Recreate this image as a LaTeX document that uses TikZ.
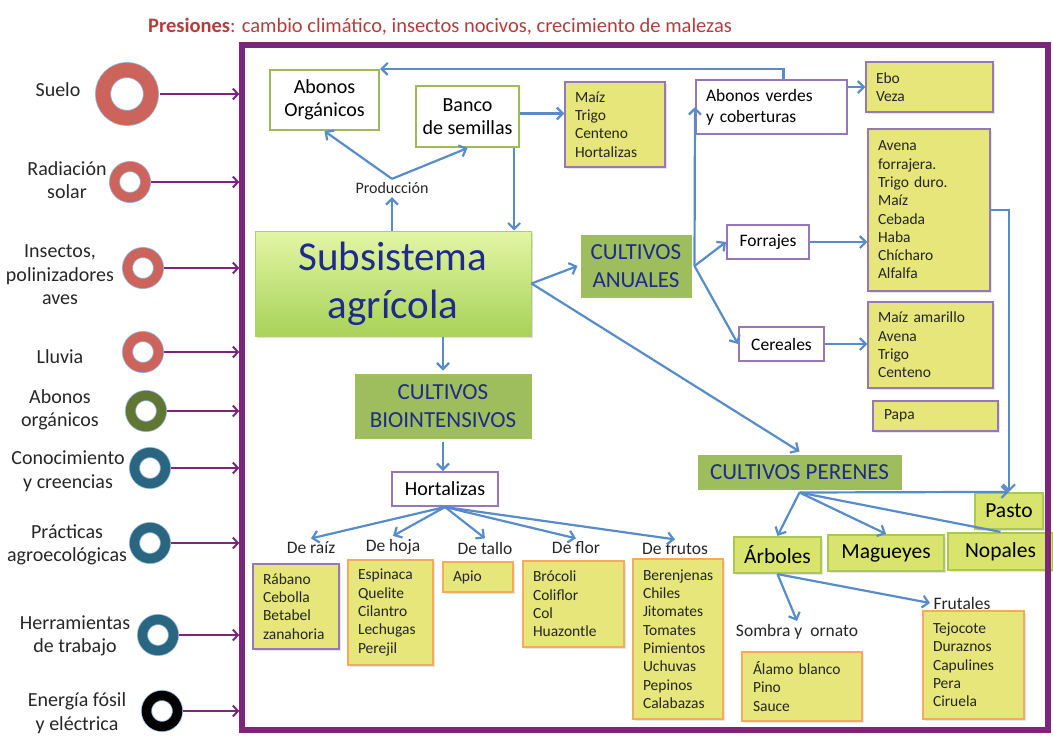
\documentclass[tikz,border=0pt]{standalone}
\usepackage{fontspec}
\setmainfont{Carlito}
\usetikzlibrary{arrows.meta,shadows}
\definecolor{titulo}{RGB}{178,62,60}
\definecolor{marcomorado}{RGB}{124,38,122}
\definecolor{flechaazul}{RGB}{88,140,200}
\definecolor{verdeborde}{RGB}{155,187,89}
\definecolor{verdecaja}{RGB}{158,189,92}
\definecolor{azultexto}{RGB}{32,42,140}
\definecolor{morado}{RGB}{150,120,185}
\definecolor{amarillo}{RGB}{230,230,122}
\definecolor{naranja}{RGB}{246,170,92}
\definecolor{verdeclaro}{RGB}{216,228,110}
\definecolor{verdeclaroborde}{RGB}{168,200,82}
\definecolor{anillorojo}{RGB}{205,100,92}
\definecolor{anilloverde}{RGB}{98,118,52}
\definecolor{anilloazul}{RGB}{42,102,128}
\definecolor{anilloborde}{RGB}{150,185,225}
\tikzstyle{flecha} = [flechaazul, line width=2.2pt, -{Straight Barb[length=6pt,width=12pt]}]
\tikzstyle{linea} = [flechaazul, line width=2.2pt]
\tikzstyle{entrada} = [marcomorado, line width=2pt, -{Straight Barb[length=5pt,width=11pt]}]
\tikzstyle{anillo} = [circle, draw=anilloborde, line width=0.8pt, double distance=9.4pt, minimum size=31pt, inner sep=0pt, outer sep=5.5pt]
\tikzstyle{factor} = [align=center, text=black!85, font=\fontsize{20}{23.5}\selectfont]
\tikzstyle{caja} = [draw=verdeborde, fill=white, line width=2.2pt, align=center, font=\fontsize{20}{23}\selectfont]
\tikzstyle{cajam} = [draw=morado, fill=white, line width=2pt, font=\fontsize{17.5}{21}\selectfont]
\tikzstyle{cultivo} = [fill=verdecaja, draw=white, line width=3pt, align=center, text=azultexto, font=\fontsize{23}{28}\selectfont, drop shadow={opacity=0.25,shadow xshift=1.5pt,shadow yshift=-1.5pt}]
\tikzstyle{lista} = [draw=morado, fill=amarillo, line width=1.3pt, align=left, inner xsep=10pt, text=black!85, font=\fontsize{15.5}{18.3}\selectfont, drop shadow={opacity=0.2,shadow xshift=1.5pt,shadow yshift=-1.5pt}]
\tikzstyle{planta} = [draw=verdeclaroborde, fill=verdeclaro, line width=2.2pt, font=\fontsize{21.5}{25}\selectfont, drop shadow={opacity=0.2,shadow xshift=1.5pt,shadow yshift=-1.5pt}]
\tikzstyle{grupo} = [text=black!85, font=\fontsize{17.5}{21}\selectfont]

\begin{document}
\begin{tikzpicture}[x=1pt,y=-1pt]
\useasboundingbox (0,0) rectangle (1053,740);
\draw (440,27) node (presiones) [text=titulo, font=\fontsize{20.5}{24}\selectfont] {\textbf{Presiones}: cambio climático, insectos nocivos, crecimiento de malezas};
% factores de entrada
\draw (58,90) node (tsuelo) [factor] {Suelo};
\draw (67,180) node (tradiacion) [factor] {Radiación\\solar};
\draw (60,275) node (tinsectos) [factor] {Insectos,\\polinizadores\\aves};
\draw (60,357) node (tlluvia) [factor] {Lluvia};
\draw (60,410) node (tabonos) [factor] {Abonos\\orgánicos};
\draw (68,471) node (tconocimiento) [factor] {Conocimiento\\y creencias};
\draw (67,545) node (tpracticas) [factor] {Prácticas\\agroecológicas};
\draw (75,636) node (therramientas) [factor] {Herramientas\\de trabajo};
\draw (77,713) node (tenergia) [factor] {Energía fósil\\y eléctrica};
\draw (127,94) node (suelo) [anillo, double=anillorojo, minimum size=48pt, double distance=14.4pt, outer sep=8.8pt] {};
\draw (130,182) node (radiacion) [anillo, double=anillorojo] {};
\draw (143,268) node (insectos) [anillo, double=anillorojo] {};
\draw (143,352) node (lluvia) [anillo, double=anillorojo] {};
\draw (146,411) node (abonosorg) [anillo, double=anilloverde] {};
\draw (150,468) node (conocimiento) [anillo, double=anilloazul] {};
\draw (150,543) node (practicas) [anillo, double=anilloazul] {};
\draw (158,635) node (herramientas) [anillo, double=anilloazul] {};
\draw (162,711) node (energia) [anillo, double=black] {};
% subsistema
\draw (324.5,100) node (abonos) [caja, minimum width=109pt, minimum height=60pt] {Abonos\\Orgánicos};
\draw (467.5,116.5) node (banco) [caja, minimum width=103pt, minimum height=61pt] {Banco\\de semillas};
\draw (615,124.5) node (semillas) [lista, text width=80pt, minimum height=85pt] {Maíz\\Trigo\\Centeno\\Hortalizas};
\draw (392,188) node (produccion) [text=black!85, font=\fontsize{16}{19}\selectfont] {Producción};
\draw (393,283.5) node (subsistema) [shade, top color={rgb,255:red,226;green,246;blue,165}, bottom color={rgb,255:red,168;green,210;blue,88}, draw={rgb,255:red,175;green,205;blue,110}, line width=1pt, minimum width=276pt, minimum height=105pt, align=center, text=azultexto, font=\fontsize{41}{48}\selectfont, drop shadow={opacity=0.25,shadow xshift=2pt,shadow yshift=-2pt}] {Subsistema\\agrícola};
\draw (636,266) node (anuales) [cultivo, minimum width=114pt, minimum height=66pt] {CULTIVOS\\ANUALES};
\draw (443,406) node (bioint) [cultivo, minimum width=180pt, minimum height=68pt] {CULTIVOS\\BIOINTENSIVOS};
\draw (799.5,472) node (perenes) [cultivo, minimum width=207pt, minimum height=38pt] {CULTIVOS PERENES};
\draw (771.5,107) node (verdes) [cajam, align=left, text width=131pt, inner xsep=10pt, minimum height=54pt] {Abonos verdes\\y coberturas};
\draw (929.5,87) node (ebo) [lista, text width=107pt, minimum height=50pt] {Ebo\\Veza};
\draw (768,242) node (forrajes) [cajam, minimum width=82pt, minimum height=34pt] {Forrajes};
\draw (929,210) node (forrajeslist) [lista, text width=102pt, minimum height=162pt] {Avena\\forrajera.\\Trigo duro.\\Maíz\\Cebada\\Haba\\Chícharo\\Alfalfa};
\draw (781.5,344) node (cereales) [cajam, minimum width=85pt, minimum height=34pt] {Cereales};
\draw (930.5,345) node (cereallist) [lista, text width=105pt, minimum height=86pt] {Maíz amarillo\\Avena\\Trigo\\Centeno};
\draw (935.5,416) node (papa) [lista, text width=103pt, inner xsep=11pt, minimum height=30pt] {Papa};
\draw (1009,511) node (pasto) [planta, minimum width=68pt, minimum height=36pt] {Pasto};
\draw (777.5,555) node (arboles) [planta, minimum width=87pt, minimum height=36pt] {Árboles};
\draw (886,553) node (magueyes) [planta, minimum width=116pt, minimum height=36pt] {Magueyes};
\draw (1000.5,551.5) node (nopales) [planta, minimum width=105pt, minimum height=37pt] {Nopales};
\draw (797,632) node (sombra) [grupo] {Sombra y~ ornato};
\draw (802,686.5) node (sombralist) [lista, draw=naranja, text width=98pt, inner xsep=11pt, minimum height=69pt] {Álamo blanco\\Pino\\Sauce};
\draw (962,603) node (frutales) [grupo] {Frutales};
\draw (973.5,665) node (frutaleslist) [lista, draw=naranja, text width=81pt, minimum height=108pt] {Tejocote\\Duraznos\\Capulines\\Pera\\Ciruela};
\draw (445,489) node (hortalizas) [cajam, font=\fontsize{20}{23}\selectfont, minimum width=106pt, minimum height=34pt] {Hortalizas};
\draw (311,548) node (deraiz) [grupo] {De raíz};
\draw (393,547) node (dehoja) [grupo] {De hoja};
\draw (485,548) node (detallo) [grupo] {De tallo};
\draw (576,548) node (deflor) [grupo] {De flor};
\draw (675,549) node (defrutos) [grupo] {De frutos};
\draw (296,606.5) node (raiz) [lista, text width=66pt, minimum height=85pt] {Rábano\\Cebolla\\Betabel\\zanahoria};
\draw (390.5,612.5) node (hoja) [lista, draw=naranja, text width=65pt, minimum height=105pt] {Espinaca\\Quelite\\Cilantro\\Lechugas\\Perejil};
\draw (478,577) node (tallo) [lista, draw=naranja, text width=50pt, minimum height=30pt] {Apio};
\draw (573.5,604) node (flor) [lista, draw=naranja, text width=81pt, minimum height=86pt] {Brócoli\\Coliflor\\Col\\Huazontle};
\draw (678,639) node (frutos) [lista, draw=naranja, text width=70pt, minimum height=160pt] {Berenjenas\\Chiles\\Jitomates\\Tomates\\Pimientos\\Uchuvas\\Pepinos\\Calabazas};
\draw (645,387.5) node (marco) [draw=marcomorado, line width=5.5pt, minimum width=806pt, minimum height=685pt, inner sep=0pt] {};
% entradas al sistema
\foreach \f in {suelo,radiacion,insectos,lluvia,abonosorg,conocimiento,practicas,herramientas,energia}
  \draw[entrada] (\f) -- (\f -| marco.west);
% flujos
\draw[flecha] (subsistema.north -| produccion) -- (produccion.south);
\draw[flecha] (produccion.north) -- (abonos.south);
\draw[flecha] (produccion.north) -- (banco.south);
\draw[flecha] ([yshift=3pt]banco.east) -- ([yshift=3pt]banco.east -| semillas.west);
\draw[flecha] ([xshift=-6pt]banco.south east) -- ([xshift=-6pt]banco.south east |- subsistema.north);
\draw[flecha] ([xshift=12pt]verdes.north) |- (abonos.north east);
\draw[flecha] (subsistema.east) -- (anuales.west);
\draw[flecha] (subsistema.east) -- (perenes.north);
\draw[flecha] (subsistema.south -| bioint.north) -- (bioint.north);
\draw[flecha] (bioint.south) -- (bioint.south |- hortalizas.north);
\draw[flecha] (anuales.east) -- (verdes.west);
\draw[flecha] (anuales.east) -- (forrajes.west);
\draw[flecha] (anuales.east) -- (cereales.west);
\draw[flecha] (verdes.east |- ebo.west) -- (ebo.west);
\draw[flecha] (forrajes.east) -- (forrajes.east -| forrajeslist.west);
\draw[flecha] (cereales.east) -- (cereales.east -| cereallist.west);
\draw[flecha] (forrajeslist.east) -| (pasto.north);
\draw[flecha] (perenes.south) -- (pasto.north);
\draw[flecha] (perenes.south) -- (arboles.north);
\draw[flecha] (perenes.south) -- (magueyes.north);
\draw[linea] (perenes.south) -- (nopales.north);
\draw[flecha] (arboles.south) -- (sombra.north);
\draw[flecha] (arboles.south) -- (frutales.west);
\foreach \g in {deraiz,dehoja,detallo,deflor,defrutos}
  \draw[flecha] (hortalizas.south) -- (\g.north);
\end{tikzpicture}
\end{document}
